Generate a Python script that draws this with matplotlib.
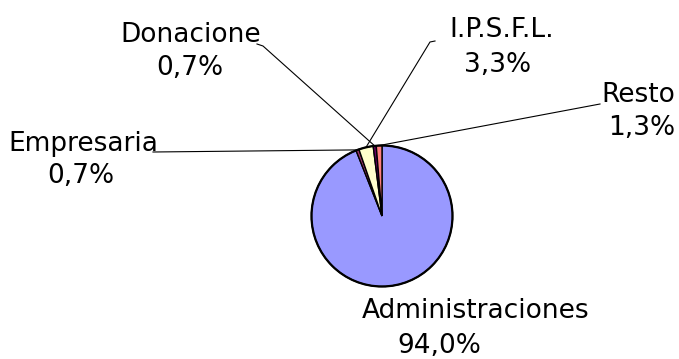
import numpy as np
import matplotlib
matplotlib.use("Agg")
import matplotlib.pyplot as plt

# Shares of funding by source (%), in drawing order clockwise from 12 o'clock
categories = ["Administraciones", "Empresaria", "I.P.S.F.L.", "Donacione", "Resto"]
shares = [94.0, 0.7, 3.3, 0.7, 1.3]
share_labels = ["94,0%", "0,7%", "3,3%", "0,7%", "1,3%"]
colors = ["#9999FF", "#993366", "#FFFFCC", "#660066", "#FF8080"]

W, H = 679, 359
fig = plt.figure(figsize=(W / 100, H / 100), dpi=100)
ax = fig.add_axes([0, 0, 1, 1])

cx, cy, r = 382, H - 216, 70.5
wedges, _ = ax.pie(shares, colors=colors, startangle=90, counterclock=False,
                   center=(cx, cy), radius=r,
                   wedgeprops=dict(edgecolor="black", linewidth=1.0))
# heavier outline around the whole pie
ax.add_patch(plt.Circle((cx, cy), r, fill=False, edgecolor="black", linewidth=1.6))

ax.set_xlim(0, W)
ax.set_ylim(0, H)
ax.set_aspect("equal")
ax.axis("off")

# label placement in pixels from top-left:
# (name centre x, name baseline, value centre x, value baseline, leader start points)
label_pos = {
    "Administraciones": (476, 318, 439, 353, None),
    "Empresaria": (83, 151, 81, 183, [(153, 152)]),
    "I.P.S.F.L.": (502, 37, 498, 72, [(435, 41), (430, 42)]),
    "Donacione": (191, 42, 190, 75, [(257, 44), (263, 46)]),
    "Resto": (638, 102, 642, 135, [(600, 104)]),
}

for w, name, lab in zip(wedges, categories, share_labels):
    nx, ny, vx, vy, leader = label_pos[name]
    ax.text(nx, H - ny, name, ha="center", va="baseline", fontsize=19, color="black")
    ax.text(vx, H - vy, lab, ha="center", va="baseline", fontsize=19, color="black")
    if leader:
        mid = np.deg2rad((w.theta1 + w.theta2) / 2)
        ex, ey = cx + r * np.cos(mid), cy + r * np.sin(mid)
        xs = [p[0] for p in leader] + [ex]
        ys = [H - p[1] for p in leader] + [ey]
        ax.plot(xs, ys, color="black", linewidth=0.8)

fig.savefig("out.png", dpi=100, facecolor="white")
